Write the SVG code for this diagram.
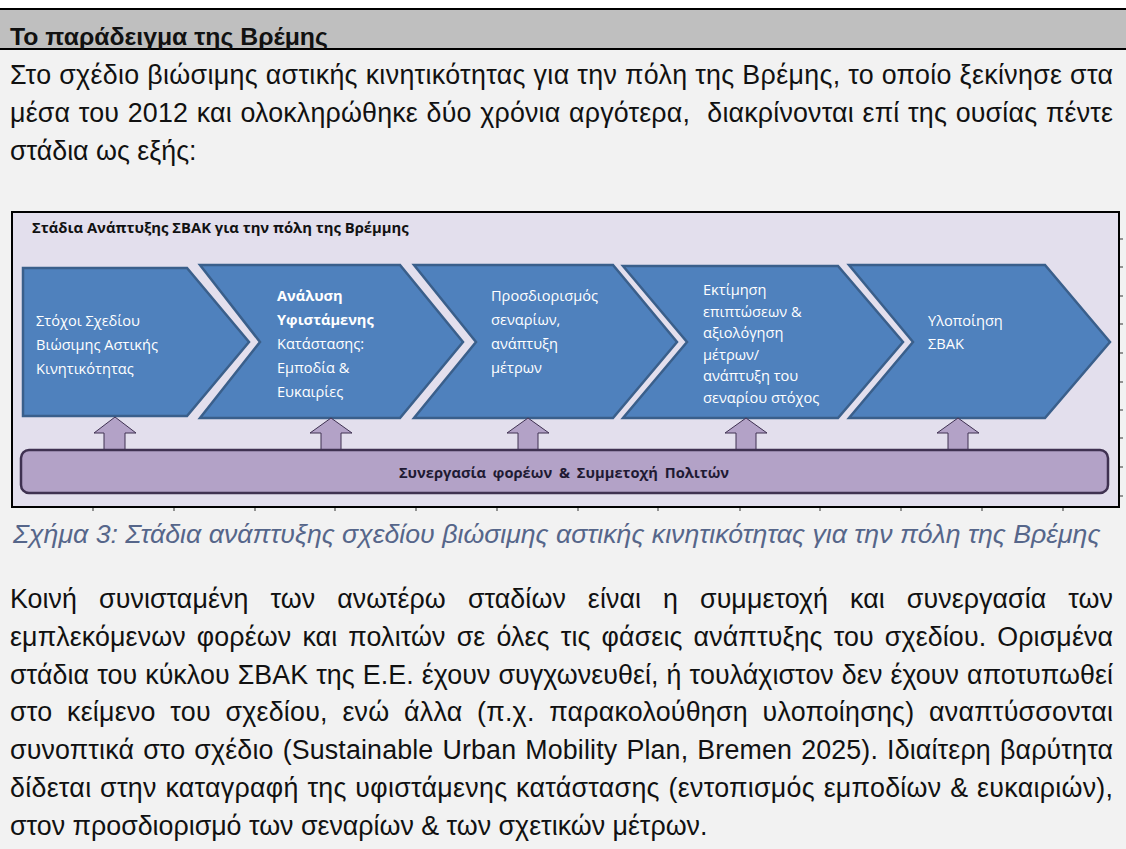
<svg xmlns="http://www.w3.org/2000/svg" width="1126" height="849" viewBox="0 0 1126 849">
<style>
.body{font-family:"Liberation Sans",Arial,sans-serif;font-size:26.8px;fill:#111}
.cap{font-family:"Liberation Sans",Arial,sans-serif;font-size:26.7px;font-style:italic;fill:#56668a}
.hdr{font-family:"Liberation Sans",Arial,sans-serif;font-size:24.8px;font-weight:bold;fill:#111}
.chev{fill:#4f81bd;stroke:#3a5f8b;stroke-width:2.5;stroke-linejoin:miter}
.ct{font-family:"Open Sans","Noto Sans",sans-serif;font-size:14.6px;fill:#ffffff}
.ctb{font-weight:bold}
.arr{fill:#b3a2c7;stroke:#3f3151;stroke-width:1}
.tick{stroke:#333;stroke-width:1}
</style>
<rect x="0" y="0" width="1126" height="849" fill="#f2f2f2"/>
<rect x="0" y="0" width="1126" height="9" fill="#ffffff"/>
<rect x="0" y="9" width="1126" height="40" fill="#bfbfbf"/>
<line x1="0" y1="9" x2="1126" y2="9" stroke="#000" stroke-width="2"/>
<line x1="0" y1="49" x2="1126" y2="49" stroke="#000" stroke-width="2"/>
<text class="hdr" x="10" y="45">Το παράδειγμα της Βρέμης</text>

<g id="intro">
<text class="body" x="10" y="84" textLength="1103" lengthAdjust="spacing">Στο σχέδιο βιώσιμης αστικής κινητικότητας για την πόλη της Βρέμης, το οποίο ξεκίνησε στα</text>
<text class="body" x="10" y="122" textLength="1103" lengthAdjust="spacing" word-spacing="1" xml:space="preserve">μέσα του 2012 και ολοκληρώθηκε δύο χρόνια αργότερα,  διακρίνονται επί της ουσίας πέντε</text>
<text class="body" x="10" y="160">στάδια ως εξής:</text>
</g>

<g id="diagram">
<rect x="12" y="212" width="1107" height="295" fill="#e3dfed" stroke="#000" stroke-width="2"/>
<g id="ticks">
<path class="tick" d="M93,508v3M174,508v3M255,508v3M335,508v3M416,508v3M497,508v3M578,508v3M658,508v3M740,508v3M820,508v3M901,508v3M982,508v3M1063,508v3"/>
<path class="tick" d="M1120,239h3M1120,267h3M1120,296h3M1120,324h3M1120,353h3M1120,382h3M1120,410h3M1120,438h3M1120,467h3M1120,496h3"/>
</g>
<text x="32" y="233" font-family="'Open Sans','Noto Sans',sans-serif" font-size="14.8" font-weight="bold" fill="#111">Στάδια Ανάπτυξης ΣΒΑΚ για την πόλη της Βρέμμης</text>

<g id="stage1">
<path class="chev" d="M23,268H187L249,342L187,416H23Z"/>
<text class="ct" x="36" y="326">Στόχοι Σχεδίου</text>
<text class="ct" x="36" y="350">Βιώσιμης Αστικής</text>
<text class="ct" x="36" y="374">Κινητικότητας</text>
</g>
<g id="stage2">
<path class="chev" d="M200,265H400L463,342L400,418H200L260,342Z"/>
<text class="ct ctb" x="277" y="301">Ανάλυση</text>
<text class="ct ctb" x="277" y="325">Υφιστάμενης</text>
<text class="ct" x="277" y="349">Κατάστασης:</text>
<text class="ct" x="277" y="373">Εμποδία &amp;</text>
<text class="ct" x="277" y="397">Ευκαιρίες</text>
</g>
<g id="stage3">
<path class="chev" d="M414,265H613L677,342L613,418H414L476,342Z"/>
<text class="ct" x="491" y="301">Προσδιορισμός</text>
<text class="ct" x="491" y="325">σεναρίων,</text>
<text class="ct" x="491" y="349">ανάπτυξη</text>
<text class="ct" x="491" y="373">μέτρων</text>
</g>
<g id="stage4">
<path class="chev" d="M623,266H838L903,342L838,418H623L687,342Z"/>
<text class="ct" x="703" y="295">Εκτίμηση</text>
<text class="ct" x="703" y="316.5">επιπτώσεων &amp;</text>
<text class="ct" x="703" y="338">αξιολόγηση</text>
<text class="ct" x="703" y="359.5">μέτρων/</text>
<text class="ct" x="703" y="381">ανάπτυξη του</text>
<text class="ct" x="703" y="402.5">σεναρίου στόχος</text>
</g>
<g id="stage5">
<path class="chev" d="M849,265H1045L1110,342L1045,418H849L913,342Z"/>
<text class="ct" x="928" y="326">Υλοποίηση</text>
<text class="ct" x="928" y="349">ΣΒΑΚ</text>
</g>

<g id="connectors">
<path class="arr" d="M115,417L136,433H125V451H104V433H94Z"/>
<path class="arr" d="M331,418L352,433H341V451H321V433H310Z"/>
<path class="arr" d="M528,418L549,433H538V451H518V433H507Z"/>
<path class="arr" d="M746,418L767,433H756V451H736V433H725Z"/>
<path class="arr" d="M958,418L979,433H968V451H948V433H937Z"/>
</g>

<g id="cooperation">
<rect x="21" y="450" width="1087" height="43" rx="8" ry="8" fill="#b3a2c7" stroke="#3f3151" stroke-width="2.5"/>
<text x="564" y="478" text-anchor="middle" font-family="'Open Sans','Noto Sans',sans-serif" font-size="14.7" font-weight="bold" fill="#1f1a33" word-spacing="3">Συνεργασία φορέων &amp; Συμμετοχή Πολιτών</text>
</g>
</g>

<text class="cap" x="13" y="543">Σχήμα 3: Στάδια ανάπτυξης σχεδίου βιώσιμης αστικής κινητικότητας για την πόλη της Βρέμης</text>

<g id="outro">
<text class="body" x="10" y="608" textLength="1103" lengthAdjust="spacing" word-spacing="14.5">Κοινή συνισταμένη των ανωτέρω σταδίων είναι η συμμετοχή και συνεργασία των</text>
<text class="body" x="10" y="646" textLength="1103" lengthAdjust="spacing" word-spacing="3.5">εμπλεκόμενων φορέων και πολιτών σε όλες τις φάσεις ανάπτυξης του σχεδίου. Ορισμένα</text>
<text class="body" x="10" y="684" textLength="1103" lengthAdjust="spacing" word-spacing="0.5">στάδια του κύκλου ΣΒΑΚ της Ε.Ε. έχουν συγχωνευθεί, ή τουλάχιστον δεν έχουν αποτυπωθεί</text>
<text class="body" x="10" y="721" textLength="1103" lengthAdjust="spacing" word-spacing="7">στο κείμενο του σχεδίου, ενώ άλλα (π.χ. παρακολούθηση υλοποίησης) αναπτύσσονται</text>
<text class="body" x="10" y="759" textLength="1103" lengthAdjust="spacing" word-spacing="1.5">συνοπτικά στο σχέδιο (Sustainable Urban Mobility Plan, Bremen 2025). Ιδιαίτερη βαρύτητα</text>
<text class="body" x="10" y="797" textLength="1103" lengthAdjust="spacing" word-spacing="1">δίδεται στην καταγραφή της υφιστάμενης κατάστασης (εντοπισμός εμποδίων &amp; ευκαιριών),</text>
<text class="body" x="10" y="835">στον προσδιορισμό των σεναρίων &amp; των σχετικών μέτρων.</text>
</g>
</svg>
